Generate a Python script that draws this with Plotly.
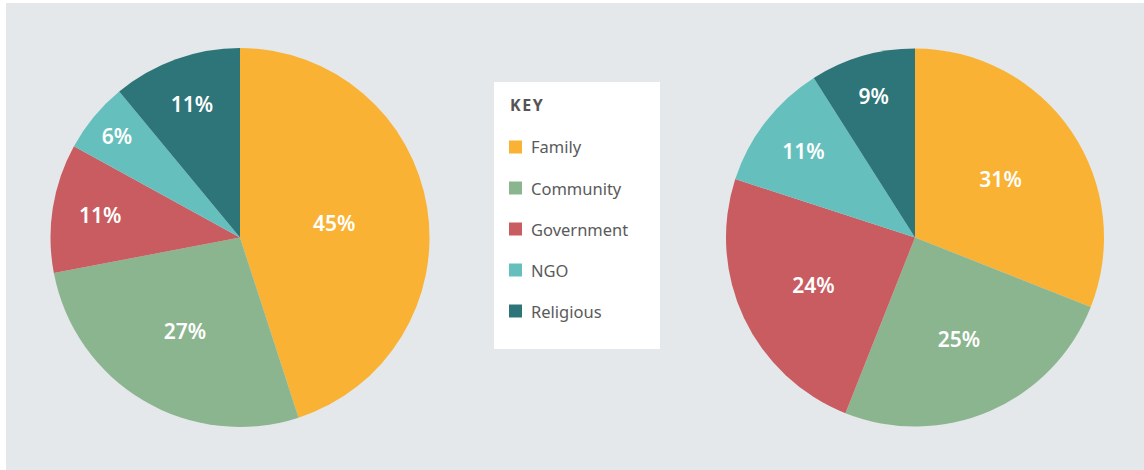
import plotly.graph_objects as go

categories = ["Family", "Community", "Government", "NGO", "Religious"]
left_values = [45, 27, 11, 6, 11]
right_values = [31, 25, 24, 11, 9]
colors = ["#f9b233", "#8bb58f", "#c85c60", "#65c0bd", "#2e7579"]
legend_title = "KEY"

W, H = 1144, 470
fig = go.Figure()

def add_pie(vals, x0, x1, y0, y1):
    fig.add_trace(go.Pie(
        labels=categories, values=vals, sort=False, direction="clockwise", rotation=0,
        marker=dict(colors=colors, line=dict(width=0)),
        textinfo="percent", textposition="inside", insidetextorientation="horizontal",
        texttemplate="%{value}%",
        textfont=dict(family="Noto Sans", size=21, color="white", weight=600),
        domain=dict(x=[x0 / W, x1 / W], y=[1 - y1 / H, 1 - y0 / H]),
        showlegend=False, hoverinfo="label+percent",
    ))

add_pie(left_values, 50, 430, 48, 427)
add_pie(right_values, 726, 1104, 48, 427)

shapes = [
    dict(type="rect", xref="paper", yref="paper", x0=6 / W, x1=1, y0=0, y1=1 - 3 / H,
         fillcolor="#e4e8eb", line=dict(width=0), layer="below"),
    dict(type="rect", xref="paper", yref="paper", x0=494 / W, x1=660 / W, y0=1 - 349 / H, y1=1 - 82 / H,
         fillcolor="white", line=dict(width=0), layer="below"),
]
annotations = [
    dict(text="<b>" + "\u200a".join(legend_title) + "</b>", x=508 / W, y=1 - 105 / H,
         xref="paper", yref="paper", xanchor="left", yanchor="middle", showarrow=False,
         font=dict(family="Noto Sans", size=16, color="#555555")),
]
for i, (cat, col) in enumerate(zip(categories, colors)):
    yc = 147 + i * 41
    shapes.append(dict(type="rect", xref="paper", yref="paper",
                       x0=509 / W, x1=522 / W, y0=1 - (yc + 6.5) / H, y1=1 - (yc - 6.5) / H,
                       fillcolor=col, line=dict(width=0)))
    annotations.append(dict(text=cat, x=529 / W, y=1 - yc / H, xref="paper", yref="paper",
                            xanchor="left", yanchor="middle", showarrow=False,
                            font=dict(family="Noto Sans", size=16.5, color="#5a5a5a")))

fig.update_layout(
    width=W, height=H, margin=dict(l=0, r=0, t=0, b=0),
    paper_bgcolor="white", plot_bgcolor="white",
    shapes=shapes, annotations=annotations,
)
fig.write_html("out.html", config={"displayModeBar": False},
               post_script="document.body.style.margin='0';document.body.style.padding='0';")
